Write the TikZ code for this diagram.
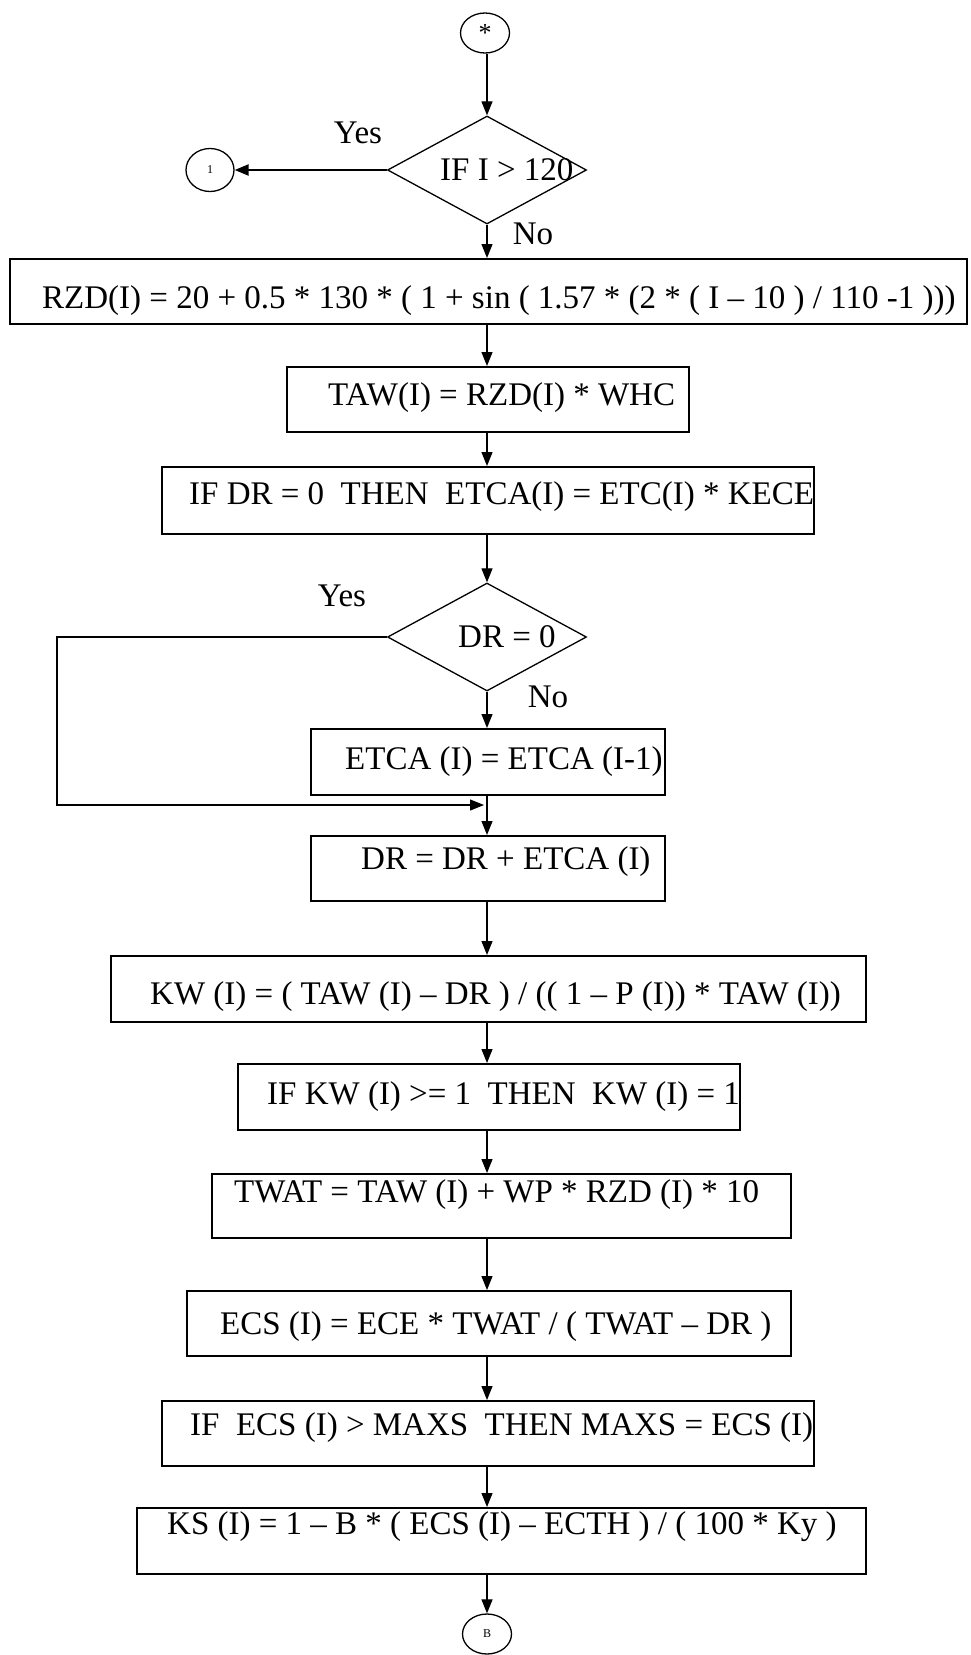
\documentclass[tikz,border=0pt]{standalone}
\usepackage{fontspec}
\setmainfont{Liberation Serif}
\usetikzlibrary{shapes.geometric,arrows.meta}
\begin{document}
\begin{tikzpicture}[x=1pt,y=-1pt,
  box/.style={draw, line width=2pt, rectangle, inner sep=0pt, anchor=north west},
  dia/.style={draw, line width=1.3pt, diamond, inner sep=0pt, minimum width=199pt, minimum height=108pt},
  conn/.style={draw, line width=1.3pt, ellipse, inner sep=0pt, minimum width=49pt, minimum height=40pt},
  txt/.style={font=\fontsize{33}{36}\selectfont, inner sep=0pt, anchor=west},
  lbl/.style={font=\fontsize{33}{36}\selectfont, inner sep=0pt},
  arr/.style={line width=1.2pt, -{Triangle[length=14pt,width=11pt]}},
  ln/.style={line width=1.2pt}
]
\useasboundingbox (0,0) rectangle (970,1655);
\coordinate (ax) at (487,0);
\coordinate (lx) at (57,0);

% connectors (terminals)
\node[conn, font=\fontsize{26}{28}\selectfont] (star) at (485,33) {*};
\node[conn, minimum width=48pt, minimum height=43pt, font=\fontsize{12}{14}\selectfont] (c1) at (210,170) {1};
\node[conn, font=\fontsize{12}{14}\selectfont] (b) at (487,1634) {B};

% decisions
\node[dia] (d1) at (487,170) {};
\node[dia] (d2) at (487,637) {};

% process boxes
\node[box, minimum width=957pt, minimum height=65pt] (rzd) at (9,258) {};
\node[box, minimum width=402pt, minimum height=65pt] (taw) at (286,366) {};
\node[box, minimum width=652pt, minimum height=67pt] (ifdr) at (161,466) {};
\node[box, minimum width=354pt, minimum height=66pt] (etca) at (310,728) {};
\node[box, minimum width=354pt, minimum height=65pt] (drb) at (310,835) {};
\node[box, minimum width=755pt, minimum height=66pt] (kw) at (110,955) {};
\node[box, minimum width=502pt, minimum height=66pt] (ifkw) at (237,1063) {};
\node[box, minimum width=579pt, minimum height=64pt] (twat) at (211,1173) {};
\node[box, minimum width=604pt, minimum height=65pt] (ecs) at (186,1290) {};
\node[box, minimum width=652pt, minimum height=65pt] (ifecs) at (161,1400) {};
\node[box, minimum width=729pt, minimum height=66pt] (ks) at (136,1507) {};

% texts
\node[txt] (t1) at (440,170) {IF I > 120};
\node[txt] (t2) at (458,637) {DR = 0};
\node[txt] (trzd) at (42,301) {RZD(I) = 20 + 0.5 * 130 * ( 1 + sin ( 1.57 * (2 * ( I – 10 ) / 110 -1 )))};
\node[txt] (ttaw) at (328,398) {TAW(I) = RZD(I) * WHC};
\node[txt] (tifdr) at (189,497) {IF DR = 0\ \ THEN\ \ ETCA(I) = ETC(I) * KECE};
\node[txt] (tetca) at (345,762) {ETCA (I) = ETCA (I-1)};
\node[txt] (tdr) at (361,862) {DR = DR + ETCA (I)};
\node[txt] (tkw) at (150,997) {KW (I) = ( TAW (I) – DR ) / (( 1 – P (I)) * TAW (I))};
\node[txt] (tifkw) at (267,1097) {IF KW (I) >= 1\ \ THEN\ \ KW (I) = 1};
\node[txt] (ttwat) at (234,1195) {TWAT = TAW (I) + WP * RZD (I) * 10};
\node[txt] (tecs) at (220,1327) {ECS (I) = ECE * TWAT / ( TWAT – DR )};
\node[txt] (tifecs) at (190,1428) {IF\ \ ECS (I) > MAXS\ \ THEN MAXS = ECS (I)};
\node[txt] (tks) at (167,1527) {KS (I) = 1 – B * ( ECS (I) – ECTH ) / ( 100 * Ky )};

% edge labels
\node[lbl] (y1) at (358,133) {Yes};
\node[lbl] (n1) at (533,234) {No};
\node[lbl] (y2) at (342,596) {Yes};
\node[lbl] (n2) at (548,697) {No};

% arrows
\draw[arr] (star.south -| ax) -- (d1.north);
\draw[arr, line width=2.2pt] (d1.west) -- (c1.east);
\draw[arr] (d1.south) -- (rzd.north -| ax);
\draw[arr] (rzd.south -| ax) -- (taw.north -| ax);
\draw[arr] (taw.south -| ax) -- (ifdr.north -| ax);
\draw[arr] (ifdr.south -| ax) -- (d2.north);
\draw[arr] (d2.south) -- (etca.north -| ax);
\coordinate (j) at (484,805);
\draw[arr] (d2.west) -- (d2.west -| lx) |- (j);
\draw[arr] (etca.south -| ax) -- (drb.north -| ax);
\draw[arr] (drb.south -| ax) -- (kw.north -| ax);
\draw[arr] (kw.south -| ax) -- (ifkw.north -| ax);
\draw[arr] (ifkw.south -| ax) -- (twat.north -| ax);
\draw[arr] (twat.south -| ax) -- (ecs.north -| ax);
\draw[arr] (ecs.south -| ax) -- (ifecs.north -| ax);
\draw[arr] (ifecs.south -| ax) -- (ks.north -| ax);
\draw[arr] (ks.south -| ax) -- (b.north);
\end{tikzpicture}
\end{document}
